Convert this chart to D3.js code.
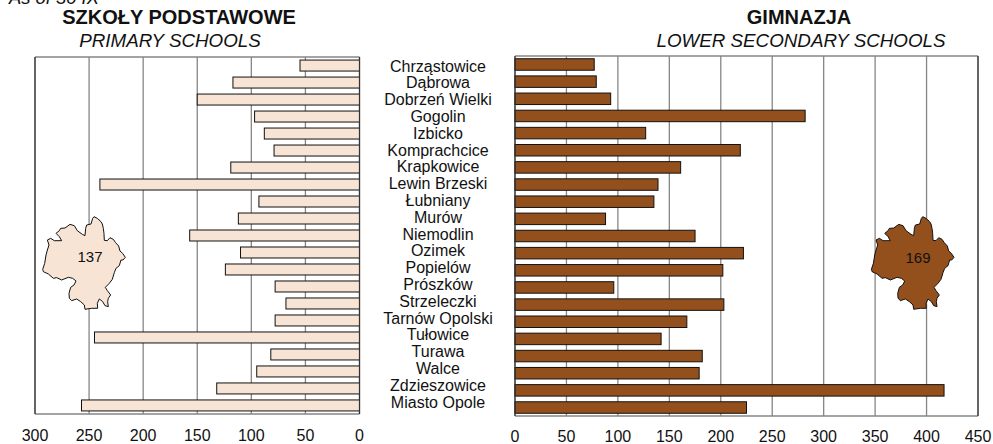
<!DOCTYPE html>
<html>
<head>
<meta charset="utf-8">
<script src="https://cdn.jsdelivr.net/npm/d3@7"></script>
<style>
  html, body { margin: 0; padding: 0; background: #fff; }
  svg { display: block; }
  text { font-family: "Liberation Sans", Arial, sans-serif; fill: #111; }
</style>
</head>
<body>
<div id="chart"></div>
<script>
const gminy = ['Chrząstowice', 'Dąbrowa', 'Dobrzeń Wielki', 'Gogolin', 'Izbicko', 'Komprachcice', 'Krapkowice',
  'Lewin Brzeski', 'Łubniany', 'Murów', 'Niemodlin', 'Ozimek', 'Popielów', 'Prószków', 'Strzeleczki',
  'Tarnów Opolski', 'Tułowice', 'Turawa', 'Walce', 'Zdzieszowice', 'Miasto Opole'];
const primary = [55, 117, 150, 97, 88, 79, 119, 240, 93, 112, 157, 110, 124, 78, 68, 78, 245, 82, 95, 132, 257];
const lower = [77, 79, 93, 282, 127, 219, 161, 139, 135, 88, 175, 222, 202, 96, 203, 167, 142, 182, 179, 417, 225];
const primaryTicks = [300, 250, 200, 150, 100, 50, 0];
const lowerTicks = [0, 50, 100, 150, 200, 250, 300, 350, 400, 450];

const outline = [[222, 50], [232, 55], [243, 65], [247, 72], [250, 85], [252, 100], [253, 121], [262, 122], [270, 113],
  [280, 118], [287, 128], [296, 138], [300, 153], [308, 160], [316, 172], [309, 180], [303, 180], [298, 197], [288, 205],
  [283, 218], [277, 238], [268, 250], [256, 262], [262, 272], [272, 285], [265, 295], [263, 305], [265, 320], [255, 317],
  [248, 305], [238, 297], [232, 310], [233, 325], [215, 325], [195, 328], [193, 315], [182, 305], [170, 297], [155, 302],
  [148, 295], [147, 280], [152, 262], [162, 255], [168, 243], [158, 235], [145, 232], [125, 240], [110, 233], [100, 235],
  [85, 222], [70, 215], [68, 208], [74, 190], [78, 165], [82, 150], [87, 135], [82, 120], [92, 115], [103, 122], [125, 122],
  [118, 110], [108, 100], [118, 92], [122, 85], [135, 84], [150, 73], [163, 77], [172, 92], [187, 103], [195, 107],
  [197, 85], [200, 75], [213, 72], [218, 55]];

const width = 993;
const height = 444;
const svg = d3.select('#chart').append('svg').attr('width', width).attr('height', height);

const drawPanel = (opts) => {
  const x = d3.scaleLinear().domain(opts.domain).range(opts.xRange);
  const y = d3.scaleBand().domain(gminy).range(opts.yRange).paddingInner(opts.padIn).paddingOuter(opts.padOut);
  const g = svg.append('g');
  const [y0, y1] = opts.yRange;
  const [xa, xb] = opts.xRange;

  g.selectAll('line.grid').data(opts.ticks).enter().append('line')
    .attr('x1', (d) => x(d)).attr('x2', (d) => x(d))
    .attr('y1', y0).attr('y2', y1)
    .attr('stroke', '#868686').attr('stroke-width', 1.3);

  // top and bottom edges are grey like the grid
  g.selectAll('line.edge').data([y0, y1]).enter().append('line')
    .attr('x1', xa).attr('x2', xb)
    .attr('y1', (d) => d).attr('y2', (d) => d)
    .attr('stroke', '#868686').attr('stroke-width', 1.3);

  g.selectAll('rect.bar').data(opts.values).enter().append('rect')
    .attr('class', 'bar')
    .attr('x', (d) => Math.min(x(0), x(d)))
    .attr('y', (d, i) => y(gminy[i]))
    .attr('width', (d) => Math.abs(x(d) - x(0)))
    .attr('height', y.bandwidth())
    .attr('fill', opts.color).attr('stroke', '#111').attr('stroke-width', 1);

  // left and right edges are dark
  g.selectAll('line.side').data([xa, xb]).enter().append('line')
    .attr('x1', (d) => d).attr('x2', (d) => d)
    .attr('y1', y0).attr('y2', y1)
    .attr('stroke', '#333').attr('stroke-width', 1.2);

  g.selectAll('text.tick').data(opts.ticks).enter().append('text')
    .attr('x', (d) => x(d)).attr('y', opts.tickY)
    .attr('text-anchor', 'middle').style('font-size', '16px')
    .text((d) => d);

  const mapX = d3.scaleLinear().domain([68, 316]).range(opts.mapX);
  const mapY = d3.scaleLinear().domain([50, 328]).range([216.7, 309.3]);
  const line = d3.line().x((d) => mapX(d[0])).y((d) => mapY(d[1])).curve(d3.curveLinearClosed);
  g.append('path').datum(outline).attr('d', line)
    .attr('fill', opts.color).attr('stroke', '#111').attr('stroke-width', 1);
  g.append('text').attr('x', opts.avgX).attr('y', opts.avgY)
    .attr('text-anchor', 'middle').style('font-size', '15px').text(opts.avg);

  svg.append('text').attr('x', opts.titleX).attr('y', 24)
    .attr('text-anchor', 'middle').style('font-size', '20px').style('font-weight', 'bold').text(opts.title);
  svg.append('text').attr('x', opts.subX).attr('y', 46.5)
    .attr('text-anchor', 'middle').style('font-size', '18.8px').style('font-style', 'italic').text(opts.sub);
};

drawPanel({
  domain: [300, 0], xRange: [35, 359.5], yRange: [57, 414], padIn: 0.353, padOut: 0.18, values: primary,
  ticks: primaryTicks, color: '#f7e4d4', tickY: 441, mapX: [42.7, 125.3], avg: '137', avgX: 90, avgY: 262,
  title: 'SZKOŁY PODSTAWOWE', titleX: 179, sub: 'PRIMARY SCHOOLS', subX: 170
});
drawPanel({
  domain: [0, 450], xRange: [515, 978], yRange: [56, 416], padIn: 0.33, padOut: 0.16, values: lower,
  ticks: lowerTicks, color: '#94501c', tickY: 442, mapX: [871.4, 954], avg: '169', avgX: 918, avgY: 263,
  title: 'GIMNAZJA', titleX: 799, sub: 'LOWER SECONDARY SCHOOLS', subX: 801
});

svg.selectAll('text.gmina').data(gminy).enter().append('text')
  .attr('x', 438)
  .attr('y', (d, i) => 71.5 + i * 16.8)
  .attr('text-anchor', 'middle').style('font-size', '16px')
  .text((d) => d);

// the reference shows only the lower part of this line, cut by the top edge
svg.append('text').attr('x', 9).attr('y', 4).style('font-size', '18.4px').style('font-style', 'italic').text('As of 30 IX');
</script>
</body>
</html>
